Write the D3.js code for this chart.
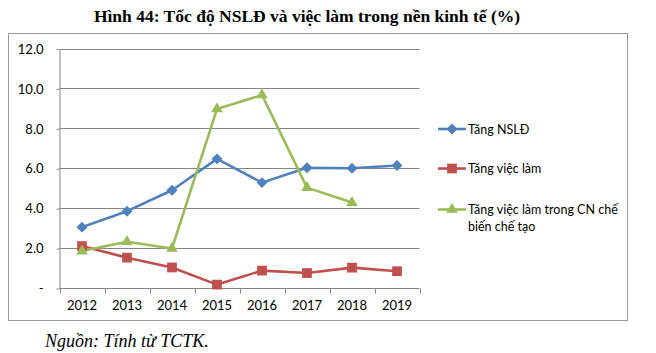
<!DOCTYPE html>
<html><head><meta charset="utf-8">
<script src="https://cdn.jsdelivr.net/npm/d3@7"></script>
<style>body{margin:0;background:#fff}svg{display:block}</style>
</head><body>
<script>
const years = ["2012","2013","2014","2015","2016","2017","2018","2019"];
const nsld = [3.05, 3.85, 4.9, 6.47, 5.28, 6.02, 6.0, 6.14];
const viecLam = [2.1, 1.52, 1.03, 0.17, 0.87, 0.75, 1.02, 0.84];
const cnChebien = [1.85, 2.32, 1.98, 8.97, 9.67, 5.03, 4.28];
const yTicks = [0, 2, 4, 6, 8, 10, 12];
const seriesNames = ["Tăng NSLĐ", "Tăng việc làm", "Tăng việc làm trong CN chế biến chế tạo"];
const colors = ["#4F81BD", "#C0504D", "#9BBB59"];

const W = 656, H = 353;
const svg = d3.select("body").append("svg").attr("width", W).attr("height", H);
const font = "Lato, 'Open Sans', sans-serif";

svg.append("text").attr("x", 307).attr("y", 22).attr("text-anchor", "middle")
  .attr("font-family", "'Liberation Serif', serif").attr("font-weight", "bold")
  .attr("font-size", 17.5).attr("fill", "#000")
  .text("Hình 44: Tốc độ NSLĐ và việc làm trong nền kinh tế (%)");

svg.append("rect").attr("x", 8.5).attr("y", 33.5).attr("width", 619).attr("height", 287)
  .attr("fill", "none").attr("stroke", "#9a9a9a").attr("stroke-width", 1);

const x = d3.scaleBand().domain(years).range([59.5, 419.5]);
const y = d3.scaleLinear().domain([0, 12]).range([288, 48.5]);

// grid
svg.append("g").selectAll("line").data(yTicks.filter(d => d > 0)).join("line")
  .attr("x1", 59.5).attr("x2", 419.5).attr("y1", d => Math.round(y(d)) + 0.5).attr("y2", d => Math.round(y(d)) + 0.5)
  .attr("stroke", "#868686").attr("stroke-width", 1);

// y axis
const yAxis = svg.append("g").attr("transform", "translate(59.5,0.5)")
  .call(d3.axisLeft(y).tickValues(yTicks).tickSize(3).tickSizeOuter(0)
    .tickFormat(d => d === 0 ? "-" : d3.format(".1f")(d)));
yAxis.select(".domain").attr("stroke", "#868686");
yAxis.selectAll(".tick line").attr("stroke", "#868686");
yAxis.selectAll(".tick text").attr("font-family", font).attr("font-size", 13).attr("fill", "#000").attr("x", -16);

// x axis
const xAxis = svg.append("g").attr("transform", "translate(0,288.5)");
xAxis.append("line").attr("x1", 59.5).attr("x2", 419.5).attr("stroke", "#868686");
const bounds = years.map(d => x(d)).concat([x(years[years.length-1]) + x.bandwidth()]);
xAxis.selectAll(".tk").data(bounds).join("line").attr("class", "tk")
  .attr("x1", d => Math.round(d) + 0.5).attr("x2", d => Math.round(d) + 0.5).attr("y1", 0).attr("y2", 5)
  .attr("stroke", "#868686");
xAxis.selectAll("text").data(years).join("text")
  .attr("x", d => x(d) + x.bandwidth() / 2).attr("y", 21.5).attr("text-anchor", "middle")
  .attr("font-family", font).attr("font-size", 13).attr("fill", "#000").text(d => d);

const cx = d => x(d) + x.bandwidth() / 2;
const line = d3.line().x(d => cx(d[0])).y(d => y(d[1]));
const all = [nsld, viecLam, cnChebien];
const diamond = { draw(ctx, size) { const r = Math.sqrt(size / 2); ctx.moveTo(0, -r); ctx.lineTo(r, 0); ctx.lineTo(0, r); ctx.lineTo(-r, 0); ctx.closePath(); } };
const shapes = [diamond, d3.symbolSquare, d3.symbolTriangle];
const sizes = [60, 95, 58];

all.forEach((vals, i) => {
  const pts = vals.map((v, j) => [years[j], v]);
  svg.append("path").attr("d", line(pts)).attr("fill", "none")
    .attr("stroke", colors[i]).attr("stroke-width", 2.6).attr("stroke-linejoin", "round");
});
all.forEach((vals, i) => {
  const pts = vals.map((v, j) => [years[j], v]);
  svg.append("g").selectAll("path").data(pts).join("path")
    .attr("transform", d => `translate(${cx(d[0])},${y(d[1])})`)
    .attr("d", d3.symbol().type(shapes[i]).size(sizes[i])())
    .attr("fill", colors[i]);
});

// legend
const legY = [129, 168.5, 209.5];
seriesNames.forEach((name, i) => {
  const g = svg.append("g");
  g.append("line").attr("x1", 438).attr("x2", 466).attr("y1", legY[i]).attr("y2", legY[i])
    .attr("stroke", colors[i]).attr("stroke-width", 2.6);
  g.append("path").attr("transform", `translate(452,${legY[i]})`)
    .attr("d", d3.symbol().type(shapes[i]).size(sizes[i])()).attr("fill", colors[i]);
  const t = g.append("text").attr("x", 468).attr("y", legY[i] + 4.5)
    .attr("font-family", font).attr("font-size", 12.5).attr("fill", "#000");
  if (i === 2) {
    t.append("tspan").attr("x", 468).text("Tăng việc làm trong CN chế");
    t.append("tspan").attr("x", 468).attr("dy", 16.5).text("biến chế tạo");
  } else t.text(name);
});

svg.append("text").attr("x", 45).attr("y", 347)
  .attr("font-family", "'Liberation Serif', serif").attr("font-style", "italic")
  .attr("font-size", 18).attr("fill", "#000").text("Nguồn: Tính từ TCTK.");
</script>
</body></html>
